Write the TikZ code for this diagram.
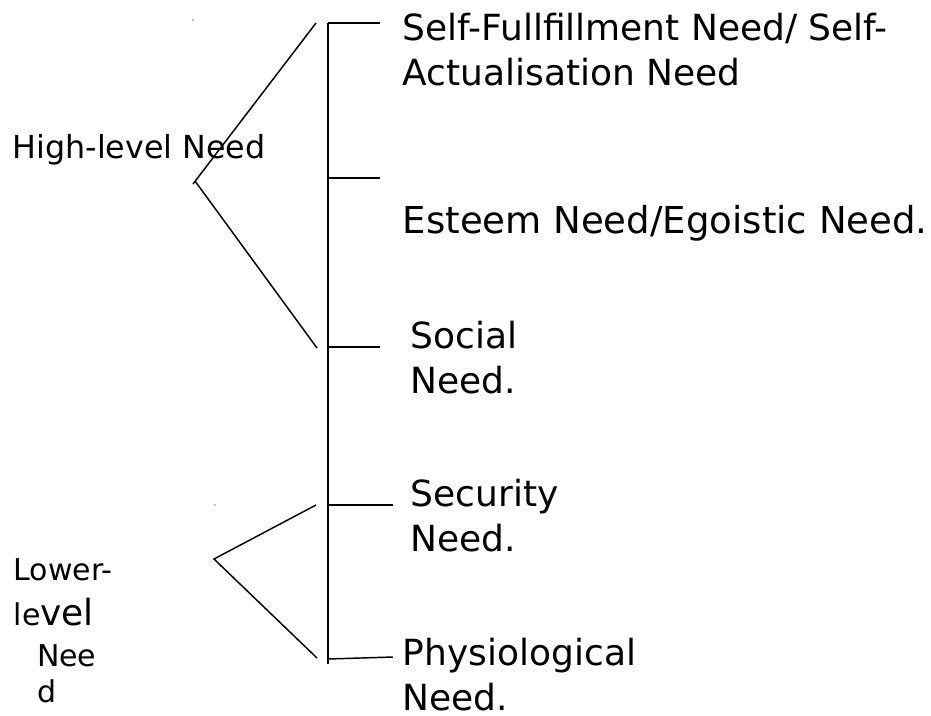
\documentclass[tikz,border=0pt]{standalone}
\usepackage{fontspec}
\setmainfont{DejaVu Sans}
\begin{document}
\begin{tikzpicture}[x=0.75pt,y=-0.75pt,
    need/.style={anchor=base west,align=left,inner sep=0pt,font=\fontsize{27}{33.5}\selectfont},
    level/.style={anchor=base west,align=left,inner sep=0pt,font=\fontsize{23.8}{29}\selectfont},
    every path/.style={line width=1.1pt}]
  \useasboundingbox (0,0) rectangle (931,715);
  % stem and its branches
  \coordinate (stemtop) at (328,23);
  \coordinate (stembot) at (328,664);
  \draw[line width=1.5pt] (stemtop) -- (stembot);
  \coordinate (b1) at (328,23);  \coordinate (e1) at (380,23);
  \coordinate (b2) at (328,178); \coordinate (e2) at (380,178);
  \coordinate (b3) at (328,347); \coordinate (e3) at (380,347);
  \coordinate (b4) at (328,505); \coordinate (e4) at (393,505);
  \coordinate (b5) at (328,659); \coordinate (e5) at (393,657);
  \draw (b1) -- (e1);
  \draw (b2) -- (e2);
  \draw (b3) -- (e3);
  \draw (b4) -- (e4);
  \draw (b5) -- (e5);
  % brackets
  \coordinate (hightip) at (316,23);
  \coordinate (highvertex) at (195,181);
  \coordinate (highend) at (317,348);
  \draw (hightip) -- (193,184);
  \draw (highvertex) -- (highend);
  \coordinate (lowtip) at (316,505);
  \coordinate (lowvertex) at (214,559);
  \coordinate (lowend) at (317,658);
  \draw (lowtip) -- (lowvertex) -- (lowend);
  \fill (193,20) circle (0.6);
  \fill (215,505) circle (0.6);
  % labels
  \node[need] (selfneed) at (402,85) {Self-Fullfillment Need/ Self-\\Actualisation Need};
  \node[need,font=\fontsize{27.8}{33.5}\selectfont] (esteemneed) at (402,233) {Esteem Need/Egoistic Need.};
  \node[need] (socialneed) at (410,393) {Social\\Need.};
  \node[need] (securityneed) at (410,551) {Security\\Need.};
  \node[need] (physioneed) at (402,710) {Physiological\\Need.};
  \node[level] (highneed) at (12,158) {High-level Need};
  \node[level,font=\fontsize{22.5}{29}\selectfont] (lowneed) at (13,702) {Lower-\\[4.5pt]le{\fontsize{27}{33}\selectfont vel}\\[1.75pt]\hspace*{17.5pt}Nee\\[-2pt]\hspace*{17.5pt}d};
\end{tikzpicture}
\end{document}
